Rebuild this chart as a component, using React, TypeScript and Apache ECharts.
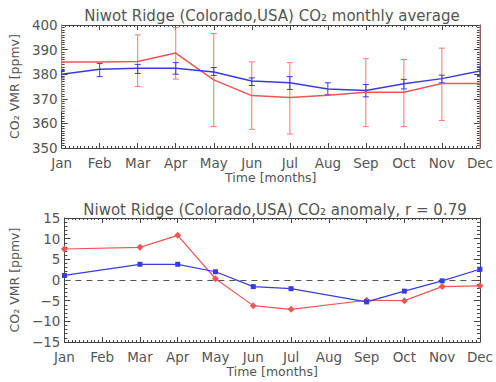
import React, { useEffect, useRef } from "react";
import * as echarts from "echarts";

const months = ["Jan", "Feb", "Mar", "Apr", "May", "Jun", "Jul", "Aug", "Sep", "Oct", "Nov", "Dec"];

// Top panel: monthly averages (ppmv)
const avgRed = [385.0, 385.0, 385.2, 388.6, 377.7, 371.3, 370.5, 371.4, 372.7, 372.7, 376.2, 376.2];
const avgBlue = [380.0, 382.0, 382.4, 382.4, 380.9, 377.2, 376.5, 374.0, 373.4, 376.1, 378.2, 381.3];
const errRedLow = [365.0, null, 375.0, 378.0, 358.7, 357.6, 355.7, null, 358.7, 358.7, 361.2, 340.0];
const errRedHigh = [405.0, null, 396.0, 399.0, 396.5, 385.0, 384.7, null, 386.3, 386.0, 390.6, 410.0];
const errBlueLow = [378.5, 379.0, 380.3, 380.0, 379.5, 375.4, 373.8, 371.7, 370.8, 374.0, 376.5, 379.5];
const errBlueHigh = [381.5, 384.4, 384.0, 384.7, 382.7, 378.5, 379.0, 376.5, 375.8, 377.9, 379.6, 383.0];

// Bottom panel: anomalies (ppmv)
const anomRed = [7.5, null, 7.9, 10.8, 0.3, -6.2, -7.1, null, -4.9, -5.0, -1.6, -1.4];
const anomBlue = [1.1, null, 3.8, 3.8, 2.0, -1.6, -2.1, null, -5.3, -2.7, -0.2, 2.6];

const topTicks = [350, 360, 370, 380, 390, 400];
const botTicks = [-15, -10, -5, 0, 5, 10, 15];

const RED = "#ee5555";
const RED_ERR = "#f07a7a";
const BLUE = "#3a3ae0";
const TXT = "#555";
const FRAME = "#444";
const FONT = "DejaVu Sans";

function pairs(vals: (number | null)[]) {
  return vals.map((v, i) => [i, v == null ? "-" : v]);
}

function errData(lo: (number | null)[], hi: (number | null)[]) {
  const out: any[] = [];
  lo.forEach((l, i) => {
    const h = hi[i];
    if (l != null && h != null) out.push([i, l, h]);
  });
  return out;
}

function makeErrRender(color: string) {
  return (params: any, api: any) => {
    const x = api.value(0);
    const p1 = api.coord([x, api.value(1)]);
    const p2 = api.coord([x, api.value(2)]);
    const w = 3;
    const st = { stroke: color, lineWidth: 1 };
    return {
      type: "group",
      children: [
        { type: "line", shape: { x1: p1[0], y1: p1[1], x2: p2[0], y2: p2[1] }, style: st },
        { type: "line", shape: { x1: p1[0] - w, y1: p1[1], x2: p1[0] + w, y2: p1[1] }, style: st },
        { type: "line", shape: { x1: p2[0] - w, y1: p2[1], x2: p2[0] + w, y2: p2[1] }, style: st },
      ],
    };
  };
}

function xAxes(gridIndex: number) {
  const base = {
    type: "value",
    gridIndex,
    min: 0,
    max: 11,
    interval: 1,
    axisLine: { show: true, onZero: false, lineStyle: { color: FRAME, width: 1 } },
    axisTick: { show: true, inside: true, length: 5, lineStyle: { color: FRAME } },
    minorTick: { show: true, splitNumber: 10, length: 2, lineStyle: { color: FRAME } },
    splitLine: { show: false },
  };
  return [
    {
      ...base,
      position: "bottom",
      name: "Time [months]",
      nameLocation: "middle",
      nameGap: 22,
      nameTextStyle: { color: TXT, fontSize: 12.5, fontFamily: FONT },
      axisLabel: {
        color: TXT,
        fontSize: 13.5,
        fontFamily: FONT,
        margin: 8,
        formatter: (v: number) => months[v] ?? "",
      },
    },
    { ...base, position: "top", axisLabel: { show: false } },
  ];
}

function yAxes(gridIndex: number, ticks: number[], minorSplit: number) {
  const base = {
    type: "value",
    gridIndex,
    min: ticks[0],
    max: ticks[ticks.length - 1],
    interval: ticks[1] - ticks[0],
    axisLine: { show: true, onZero: false, lineStyle: { color: FRAME, width: 1 } },
    axisTick: { show: true, inside: true, length: 6, lineStyle: { color: FRAME } },
    minorTick: { show: true, splitNumber: minorSplit, length: 3, lineStyle: { color: FRAME } },
    splitLine: { show: false },
  };
  return [
    {
      ...base,
      position: "left",
      name: "CO₂ VMR [ppmv]",
      nameLocation: "middle",
      nameRotate: 90,
      nameGap: 38,
      nameTextStyle: { color: TXT, fontSize: 12.5, fontFamily: FONT },
      axisLabel: {
        color: TXT,
        fontSize: 13.5,
        fontFamily: FONT,
        margin: 4,
        formatter: (v: number) => (v < 0 ? "−" + Math.abs(v) : String(v)),
      },
    },
    { ...base, position: "right", axisLabel: { show: false } },
  ];
}

export default function App() {
  const ref = useRef<HTMLDivElement>(null);
  useEffect(() => {
    if (!ref.current) return;
    const chart = echarts.init(ref.current, null, { renderer: "svg" });
    const option: any = {
      animation: false,
      backgroundColor: "#ffffff",
      title: [
        {
          text: "Niwot Ridge (Colorado,USA) CO₂ monthly average",
          left: 267,
          textAlign: "center",
          top: 3,
          textStyle: { color: TXT, fontSize: 15, fontWeight: "normal", fontFamily: FONT },
        },
        {
          text: "Niwot Ridge (Colorado,USA) CO₂ anomaly, r = 0.79",
          left: 270,
          textAlign: "center",
          top: 197,
          textStyle: { color: TXT, fontSize: 15, fontWeight: "normal", fontFamily: FONT },
        },
      ],
      grid: [
        { left: 57, right: 11, top: 25, height: 123 },
        { left: 57, right: 11, top: 218, height: 124 },
      ],
      xAxis: [...xAxes(0), ...xAxes(1)],
      yAxis: [...yAxes(0, topTicks, 10), ...yAxes(1, botTicks, 5)],
      series: [
        {
          type: "custom",
          xAxisIndex: 0,
          yAxisIndex: 0,
          clip: true,
          renderItem: makeErrRender(RED_ERR),
          data: errData(errRedLow, errRedHigh),
          z: 2,
        },
        {
          type: "custom",
          xAxisIndex: 0,
          yAxisIndex: 0,
          clip: true,
          renderItem: makeErrRender(BLUE),
          data: errData(errBlueLow, errBlueHigh),
          z: 3,
        },
        {
          type: "line",
          xAxisIndex: 0,
          yAxisIndex: 0,
          data: pairs(avgRed),
          showSymbol: false,
          symbol: "none",
          lineStyle: { color: RED, width: 1.5 },
          z: 4,
        },
        {
          type: "line",
          xAxisIndex: 0,
          yAxisIndex: 0,
          data: pairs(avgBlue),
          showSymbol: false,
          symbol: "none",
          lineStyle: { color: BLUE, width: 1.5 },
          z: 5,
        },
        {
          type: "line",
          xAxisIndex: 2,
          yAxisIndex: 2,
          data: pairs(anomRed),
          connectNulls: true,
          symbol: "diamond",
          symbolSize: 7,
          itemStyle: { color: RED },
          lineStyle: { color: RED, width: 1.2 },
          markLine: {
            silent: true,
            symbol: "none",
            label: { show: false },
            lineStyle: { color: "#555", type: [6, 5], width: 1.2 },
            data: [{ yAxis: 0 }],
          },
          z: 4,
        },
        {
          type: "line",
          xAxisIndex: 2,
          yAxisIndex: 2,
          data: pairs(anomBlue),
          connectNulls: true,
          symbol: "rect",
          symbolSize: 5,
          itemStyle: { color: BLUE },
          lineStyle: { color: BLUE, width: 1.2 },
          z: 5,
        },
      ],
    };
    chart.setOption(option);
    return () => chart.dispose();
  }, []);
  return (
    <div
      ref={ref}
      style={{ position: "fixed", left: 0, top: 0, width: 496, height: 382, background: "#fff" }}
    />
  );
}
